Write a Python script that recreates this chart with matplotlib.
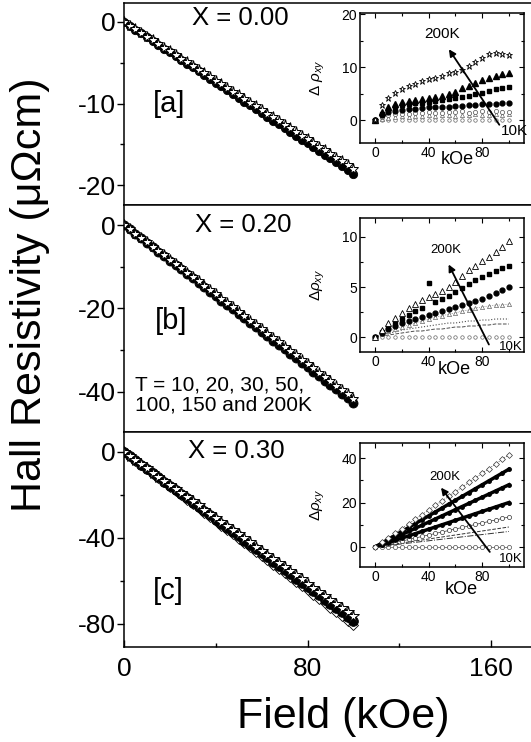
import matplotlib
matplotlib.use("Agg")
import matplotlib.pyplot as plt
from matplotlib.ticker import FixedLocator

plt.rcParams['font.family'] = ['Liberation Sans', 'DejaVu Sans']
plt.rcParams['mathtext.fontset'] = 'custom'
plt.rcParams['mathtext.rm'] = 'Liberation Sans'
plt.rcParams['mathtext.it'] = 'Liberation Sans:italic'

W, H = 531, 742

# ---------------- data ----------------
field = [0, 2.5, 5, 7.5, 10, 12.5, 15, 17.5, 20, 22.5, 25, 27.5, 30, 32.5, 35, 37.5, 40,
         42.5, 45, 47.5, 50, 52.5, 55, 57.5, 60, 62.5, 65, 67.5, 70, 72.5, 75, 77.5, 80,
         82.5, 85, 87.5, 90, 92.5, 95, 97.5, 100]

# panel (a) X = 0.00
a_star = [0.0, -0.44, -0.91, -1.36, -1.79, -2.26, -2.71, -3.14, -3.61, -4.06, -4.49, -4.96, -5.41,
          -5.84, -6.31, -6.76, -7.19, -7.66, -8.11, -8.54, -9.01, -9.46, -9.89, -10.36, -10.81,
          -11.24, -11.71, -12.16, -12.59, -13.06, -13.51, -13.94, -14.41, -14.86, -15.29, -15.76,
          -16.21, -16.64, -17.11, -17.56, -17.99]
a_circ = [0.0, -0.47, -0.93, -1.40, -1.86, -2.33, -2.79, -3.26, -3.72, -4.19, -4.65, -5.12, -5.58,
          -6.05, -6.51, -6.98, -7.44, -7.91, -8.37, -8.84, -9.30, -9.77, -10.23, -10.70, -11.16,
          -11.63, -12.09, -12.56, -13.02, -13.49, -13.95, -14.42, -14.88, -15.35, -15.81, -16.28,
          -16.74, -17.21, -17.67, -18.14, -18.60]
# panel (b) X = 0.20
b_star = [0.0, -1.04, -2.08, -3.12, -4.16, -5.20, -6.24, -7.28, -8.32, -9.36, -10.40, -11.44, -12.48,
          -13.52, -14.56, -15.60, -16.64, -17.68, -18.72, -19.76, -20.80, -21.84, -22.88, -23.92,
          -24.96, -26.00, -27.04, -28.08, -29.12, -30.16, -31.20, -32.24, -33.28, -34.32, -35.36,
          -36.40, -37.44, -38.48, -39.52, -40.56, -41.60]
b_circ = [0.0, -1.07, -2.13, -3.20, -4.26, -5.33, -6.39, -7.46, -8.52, -9.59, -10.65, -11.72, -12.78,
          -13.85, -14.91, -15.98, -17.04, -18.11, -19.17, -20.24, -21.30, -22.37, -23.43, -24.50,
          -25.56, -26.63, -27.69, -28.76, -29.82, -30.89, -31.95, -33.02, -34.08, -35.15, -36.21,
          -37.28, -38.34, -39.41, -40.47, -41.54, -42.60]
# panel (c) X = 0.30
c_star = [0.0, -1.91, -3.83, -5.74, -7.65, -9.56, -11.48, -13.39, -15.30, -17.21, -19.13, -21.04,
          -22.95, -24.86, -26.78, -28.69, -30.60, -32.51, -34.43, -36.34, -38.25, -40.16, -42.08,
          -43.99, -45.90, -47.81, -49.73, -51.64, -53.55, -55.46, -57.38, -59.29, -61.20, -63.11,
          -65.03, -66.94, -68.85, -70.76, -72.68, -74.59, -76.50]
c_circ = [0.0, -1.96, -3.93, -5.89, -7.85, -9.81, -11.78, -13.74, -15.70, -17.66, -19.63, -21.59,
          -23.55, -25.51, -27.48, -29.44, -31.40, -33.36, -35.33, -37.29, -39.25, -41.21, -43.18,
          -45.14, -47.10, -49.06, -51.03, -52.99, -54.95, -56.91, -58.88, -60.84, -62.80, -64.76,
          -66.73, -68.69, -70.65, -72.61, -74.58, -76.54, -78.50]
c_diam = [0.0, -2.01, -4.03, -6.04, -8.05, -10.06, -12.08, -14.09, -16.10, -18.11, -20.13, -22.14,
          -24.15, -26.16, -28.18, -30.19, -32.20, -34.21, -36.23, -38.24, -40.25, -42.26, -44.28,
          -46.29, -48.30, -50.31, -52.33, -54.34, -56.35, -58.36, -60.38, -62.39, -64.40, -66.41,
          -68.43, -70.44, -72.45, -74.46, -76.48, -78.49, -80.50]

# insets: delta rho_xy vs field
ifield = [0, 5, 10, 15, 20, 25, 30, 35, 40, 45, 50, 55, 60, 65, 70, 75, 80, 85, 90, 95, 100]

ia_10 = [0.0] * 21
ia_20 = [0.0, 0.3, 0.5, 0.6, 0.7, 0.6, 0.8, 0.7, 0.9, 0.8, 0.9, 1.0, 0.8, 1.0, 0.9, 1.1, 1.0, 0.9, 1.1, 1.0, 1.1]
ia_30 = [0.0, 0.6, 0.9, 1.1, 1.2, 1.1, 1.4, 1.3, 1.5, 1.4, 1.3, 1.6, 1.5, 1.7, 1.4, 1.6, 1.7, 1.5, 1.7, 1.6, 1.5]
ia_50 = [0.0, 0.9, 1.5, 1.8, 2.0, 2.1, 2.2, 2.3, 2.4, 2.4, 2.5, 2.5, 2.6, 2.7, 2.8, 2.9, 3.0, 3.0, 3.1, 3.2, 3.2]
ia_100 = [0.0, 1.2, 2.0, 2.5, 2.8, 3.0, 3.2, 3.3, 3.5, 3.6, 3.8, 3.9, 4.1, 4.3, 4.6, 4.9, 5.2, 5.5, 5.8, 6.0, 6.2]
ia_150 = [0.0, 1.6, 2.5, 3.0, 3.4, 3.6, 3.8, 4.0, 4.2, 4.4, 4.6, 4.9, 5.4, 6.0, 6.5, 7.0, 7.5, 8.0, 8.4, 8.7, 8.9]
ia_200 = [0.0, 2.8, 4.2, 5.1, 5.8, 6.4, 6.9, 7.3, 7.7, 8.0, 8.4, 8.8, 9.1, 9.5, 10.2, 11.0, 11.8, 12.4, 12.6, 12.5, 12.3]

ib_10 = [0.0] * 21
ib_20 = [0.0, 0.1, 0.2, 0.3, 0.4, 0.5, 0.6, 0.6, 0.7, 0.8, 0.8, 0.9, 1.0, 1.0, 1.1, 1.1, 1.2, 1.2, 1.3, 1.3, 1.3]
ib_30 = [0.0, 0.2, 0.4, 0.5, 0.7, 0.8, 0.9, 1.0, 1.1, 1.2, 1.3, 1.4, 1.4, 1.5, 1.6, 1.6, 1.7, 1.7, 1.8, 1.8, 1.8]
ib_50 = [0.0, 0.3, 0.6, 0.8, 1.0, 1.2, 1.4, 1.6, 1.8, 2.0, 2.1, 2.3, 2.4, 2.6, 2.7, 2.9, 3.0, 3.1, 3.2, 3.2, 3.3]
ib_100 = [0.0, 0.4, 0.8, 1.1, 1.4, 1.6, 1.8, 2.0, 2.2, 2.4, 2.6, 2.8, 3.0, 3.2, 3.4, 3.6, 3.8, 4.1, 4.4, 4.7, 5.0]
ib_150 = [0.0, 0.5, 1.0, 1.4, 1.8, 2.2, 2.6, 2.9, 5.4, 3.5, 3.8, 4.1, 4.5, 4.9, 5.3, 5.7, 6.0, 6.3, 6.6, 6.9, 7.1]
ib_200 = [0.0, 0.7, 1.4, 1.9, 2.4, 2.9, 3.3, 3.7, 4.0, 4.3, 4.6, 5.0, 5.5, 6.1, 6.7, 7.1, 7.6, 8.0, 8.5, 9.0, 9.6]

ic_10 = [0.0] * 21
ic_20 = [0.0, 0.35, 0.7, 1.05, 1.4, 1.75, 2.1, 2.45, 2.8, 3.15, 3.5, 3.85, 4.2, 4.55, 4.9, 5.25, 5.6, 5.95, 6.3, 6.65, 7.0]
ic_25 = [0.0, 0.45, 0.9, 1.35, 1.8, 2.25, 2.7, 3.15, 3.6, 4.05, 4.5, 4.95, 5.4, 5.85, 6.3, 6.75, 7.2, 7.65, 8.1, 8.55, 9.0]
ic_30 = [0.0, 0.68, 1.35, 2.03, 2.7, 3.38, 4.05, 4.73, 5.4, 6.08, 6.75, 7.43, 8.1, 8.78, 9.45, 10.13, 10.8, 11.48, 12.15, 12.83, 13.5]
ic_50 = [0.0, 1.0, 2.0, 3.0, 4.0, 5.0, 6.0, 7.0, 8.0, 9.0, 10.0, 11.0, 12.0, 13.0, 14.0, 15.0, 16.0, 17.0, 18.0, 19.0, 20.0]
ic_100 = [0.0, 1.4, 2.8, 4.2, 5.6, 7.0, 8.4, 9.8, 11.2, 12.6, 14.0, 15.4, 16.8, 18.2, 19.6, 21.0, 22.4, 23.8, 25.2, 26.6, 28.0]
ic_150 = [0.0, 1.75, 3.5, 5.25, 7.0, 8.75, 10.5, 12.25, 14.0, 15.75, 17.5, 19.25, 21.0, 22.75, 24.5, 26.25, 28.0, 29.75, 31.5, 33.25, 35.0]
ic_200 = [0.0, 2.08, 4.15, 6.23, 8.3, 10.38, 12.45, 14.53, 16.6, 18.68, 20.75, 22.83, 24.9, 26.98, 29.05, 31.13, 33.2, 35.28, 37.35, 39.43, 41.5]

panel_titles = ["X = 0.00", "X = 0.20", "X = 0.30"]
panel_tags = ["[a]", "[b]", "[c]"]
temp_note = "T = 10, 20, 30, 50,\n100, 150 and 200K"

# ---------------- layout helpers ----------------
fig = plt.figure(figsize=(W / 100, H / 100), dpi=100)


def rect(l, t, r, b):
    return [l / W, 1 - b / H, (r - l) / W, (b - t) / H]


def ftext(x, y, s, **kw):
    return fig.text(x / W, 1 - y / H, s, **kw)


# ---------------- main panels ----------------
main_specs = [
    (3, 205, (-22.45, 2.33), [-20, -10, 0], [-15, -5]),
    (205, 432, (-49.6, 4.8), [-40, -20, 0], [-30, -10]),
    (432, 647, (-90.7, 9.3), [-80, -40, 0], [-60, -20]),
]
xmax = (532 - 124) / 2.294

axes = []
for i, (t, b, yl, maj, mnr) in enumerate(main_specs):
    ax = fig.add_axes(rect(124, t, 532, b))
    ax.set_xlim(0, xmax)
    ax.set_ylim(*yl)
    ax.spines['right'].set_visible(False)
    for s in ax.spines.values():
        s.set_linewidth(1.1)
    ax.yaxis.set_major_locator(FixedLocator(maj))
    ax.yaxis.set_minor_locator(FixedLocator(mnr))
    ax.tick_params(axis='y', which='major', direction='out', length=5, width=1,
                   labelsize=19, pad=1)
    ax.tick_params(axis='y', which='minor', direction='out', length=3, width=1)
    ax.set_yticklabels([f"{v:d}" for v in maj])
    if i < 2:
        ax.tick_params(axis='x', which='both', bottom=False, labelbottom=False)
    else:
        ax.xaxis.set_major_locator(FixedLocator([0, 80, 160]))
        ax.xaxis.set_minor_locator(FixedLocator([40, 120]))
        ax.tick_params(axis='x', which='major', direction='in', length=5, width=1,
                       labelsize=19, pad=7)
        ax.tick_params(axis='x', which='minor', direction='in', length=3, width=1)
    axes.append(ax)

axa, axb, axc = axes
axa.plot(field, a_circ, 'o', ms=6, mfc='black', mec='black', mew=0.6)
axa.plot(field, a_star, '*', ms=8, mfc='white', mec='black', mew=0.7)
axb.plot(field, b_circ, 'o', ms=6.5, mfc='black', mec='black', mew=0.6)
axb.plot(field, b_star, '*', ms=8, mfc='white', mec='black', mew=0.7)
axc.plot(field, c_diam, 'D', ms=5.5, mfc='white', mec='black', mew=0.6)
axc.plot(field, c_circ, 'o', ms=7, mfc='black', mec='black', mew=0.6)
axc.plot(field, c_star, '*', ms=8.5, mfc='white', mec='black', mew=0.7)

# panel annotations
ftext(192, 18, panel_titles[0], fontsize=18.5, ha='left', va='center')
ftext(195, 225, panel_titles[1], fontsize=18.5, ha='left', va='center')
ftext(188, 451, panel_titles[2], fontsize=18.5, ha='left', va='center')
ftext(153, 104, panel_tags[0], fontsize=21, ha='left', va='center')
ftext(155, 321, panel_tags[1], fontsize=21, ha='left', va='center')
ftext(153, 591, panel_tags[2], fontsize=21, ha='left', va='center')
ftext(135, 395, temp_note, fontsize=15, ha='left', va='center', linespacing=1.1)

ftext(30, 295, "Hall Resistivity (\u03bc\u03a9cm)", fontsize=31, rotation=90,
      ha='center', va='center')
ftext(343, 717, "Field (kOe)", fontsize=31, ha='center', va='center')

# ---------------- insets ----------------
ixlim = (-11.3, 111.3)


def make_inset(t, b, yl, ymaj, ymin, ylab):
    ax = fig.add_axes(rect(360, t, 524, b))
    ax.set_xlim(*ixlim)
    ax.set_ylim(*yl)
    for s in ax.spines.values():
        s.set_linewidth(1.1)
    ax.xaxis.set_major_locator(FixedLocator([0, 40, 80]))
    ax.xaxis.set_minor_locator(FixedLocator([20, 60, 100]))
    ax.yaxis.set_major_locator(FixedLocator(ymaj))
    ax.yaxis.set_minor_locator(FixedLocator(ymin))
    ax.tick_params(which='both', direction='in', top=True, right=True, width=0.8)
    ax.tick_params(which='major', length=3.5, labelsize=10, pad=2)
    ax.tick_params(which='minor', length=2)
    ax.set_ylabel(ylab, fontsize=11)
    ax.yaxis.set_label_coords(-0.2, 0.5)
    return ax


ina = make_inset(13, 143, (-4.3, 20.2), [0, 10, 20], [5, 15], r'$\Delta\ \rho_{xy}$')
inb = make_inset(218, 352, (-1.5, 11.9), [0, 5, 10], [2.5, 7.5], r'$\Delta\rho_{xy}$')
inc = make_inset(443, 567, (-9.0, 46.8), [0, 20, 40], [10, 30], r'$\Delta\rho_{xy}$')

# inset a
ina.plot(ifield, ia_10, 'o', ms=2.5, mfc='white', mec='0.4', mew=0.5)
ina.plot(ifield, ia_20, '^', ms=3, mfc='white', mec='0.4', mew=0.5)
ina.plot(ifield, ia_30, 'o', ms=3, mfc='white', mec='0.3', mew=0.5)
ina.plot(ifield, ia_50, 'o', ms=3.5, mfc='black', mec='black')
ina.plot(ifield, ia_100, 's', ms=3.5, mfc='black', mec='black')
ina.plot(ifield, ia_150, '^', ms=4, mfc='black', mec='black')
ina.plot(ifield, ia_200, '*', ms=5, mfc='white', mec='black', mew=0.6)

# inset b
inb.plot(ifield, ib_10, 'o', ms=2.5, mfc='white', mec='0.4', mew=0.5)
inb.plot(ifield, ib_20, '--', lw=0.7, color='0.3')
inb.plot(ifield, ib_30, ':', lw=0.8, color='0.3')
inb.plot(ifield, ib_50, '^', ms=3, mfc='white', mec='0.4', mew=0.5, ls=':', lw=0.5, color='0.4')
inb.plot(ifield, ib_100, 'o', ms=3.5, mfc='black', mec='black')
inb.plot(ifield, ib_150, 's', ms=3.5, mfc='black', mec='black')
inb.plot(ifield, ib_200, '^', ms=4, mfc='white', mec='black', mew=0.6)

# inset c
inc.plot(ifield, ic_10, 'o', ms=3, mfc='white', mec='0.3', mew=0.5, ls='-', lw=0.5, color='0.3')
inc.plot(ifield, ic_20, '-.', lw=0.7, color='0.2')
inc.plot(ifield, ic_25, '--', lw=0.7, color='0.2')
inc.plot(ifield, ic_30, 'o', ms=3, mfc='white', mec='0.2', mew=0.5, ls='-', lw=0.5, color='0.2')
inc.plot(ifield, ic_50, 'o', ms=2.5, mfc='black', mec='black', ls='-', lw=2.5, color='black')
inc.plot(ifield, ic_100, 'o', ms=2.5, mfc='black', mec='black', ls='-', lw=2.5, color='black')
inc.plot(ifield, ic_150, 'o', ms=2.5, mfc='black', mec='black', ls='-', lw=2.5, color='black')
inc.plot(ifield, ic_200, 'D', ms=3, mfc='white', mec='0.2', mew=0.5, ls=':', lw=0.6, color='0.2')

# arrows and labels in insets
arrow_kw = dict(arrowstyle='-|>', color='black', lw=1.3, mutation_scale=10)
ina.annotate('', xy=(54, 13.8), xytext=(94, -1.3), arrowprops=arrow_kw)
ina.text(50, 16.2, '200K', fontsize=11, ha='center', va='center')
ina.text(104, -2.1, '10K', fontsize=11, ha='center', va='center')
inb.annotate('', xy=(54, 7.5), xytext=(86, -1.0), arrowprops=arrow_kw)
inb.text(53, 8.7, '200K', fontsize=9.5, ha='center', va='center')
inb.text(101.5, -1.0, '10K', fontsize=9.5, ha='center', va='center')
inc.annotate('', xy=(48, 27.7), xytext=(87, -3.2), arrowprops=arrow_kw)
inc.text(52, 31.4, '200K', fontsize=9.5, ha='center', va='center')
inc.text(101.5, -5.5, '10K', fontsize=9.5, ha='center', va='center')

ftext(457, 160, 'kOe', fontsize=13, ha='center', va='center')
ftext(454, 370, 'kOe', fontsize=13, ha='center', va='center')
ftext(461, 590, 'kOe', fontsize=13, ha='center', va='center')

fig.savefig('out.png', dpi=100)
